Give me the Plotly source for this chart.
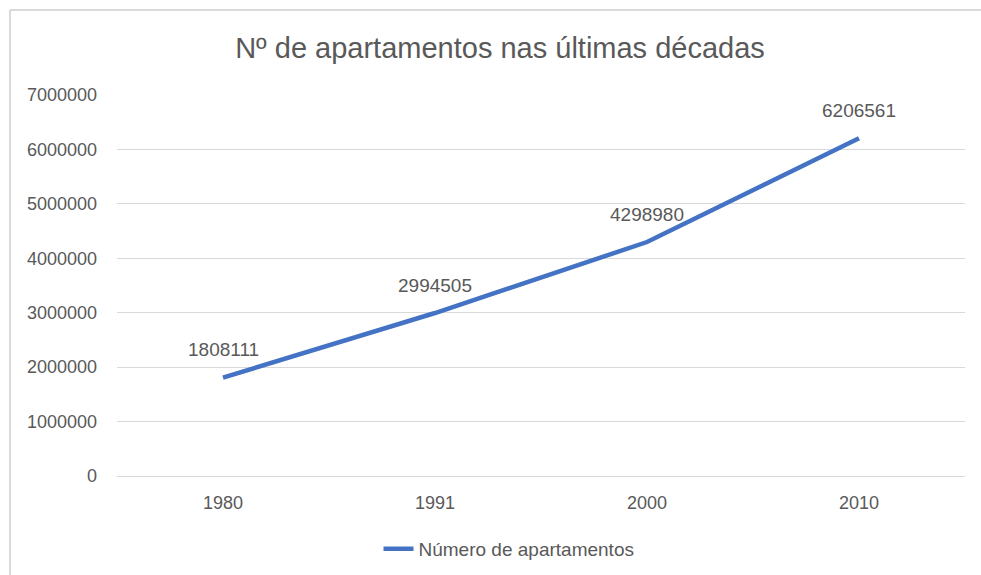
import plotly.graph_objects as go

anos = ["1980", "1991", "2000", "2010"]
apartamentos = [1808111, 2994505, 4298980, 6206561]
y_ticks = [0, 1000000, 2000000, 3000000, 4000000, 5000000, 6000000, 7000000]

cinza = "#595959"
grade = "#d9d9d9"
fonte = "Liberation Sans"

fig = go.Figure()
fig.add_trace(
    go.Scatter(
        x=anos,
        y=apartamentos,
        mode="lines",
        name="Número de apartamentos",
        line=dict(color="#4472C4", width=4.5),
    )
)

# rótulos de dados acima dos pontos (x = índice da categoria)
for i, v in enumerate(apartamentos):
    fig.add_annotation(
        x=i, y=v, text=str(v), showarrow=False, yshift=28,
        font=dict(family=fonte, size=19, color=cinza),
    )

fig.update_layout(
    width=981,
    height=575,
    paper_bgcolor="white",
    plot_bgcolor="white",
    margin=dict(l=117, r=16, t=95, b=99),
    title=dict(
        text="Nº de apartamentos nas últimas décadas",
        xref="container", x=500 / 981, xanchor="center",
        yref="container", y=1 - 48 / 575, yanchor="middle",
        font=dict(family=fonte, size=29, color=cinza),
    ),
    showlegend=True,
    legend=dict(
        orientation="h",
        xref="container", x=509 / 981, xanchor="center",
        yref="container", y=1 - 549 / 575, yanchor="middle",
        font=dict(family=fonte, size=19, color=cinza),
    ),
    shapes=[
        dict(type="line", xref="paper", yref="paper", x0=-107 / 848, x1=1 + 16 / 848,
             y0=1 + 85 / 381, y1=1 + 85 / 381, line=dict(color=grade, width=2)),
        dict(type="line", xref="paper", yref="paper", x0=-107 / 848, x1=-107 / 848,
             y0=1 + 85 / 381, y1=-99 / 381, line=dict(color=grade, width=2)),
    ],
)

fig.update_xaxes(
    type="category",
    range=[-0.5, 3.5],
    showgrid=False,
    showline=True,
    linecolor=grade,
    linewidth=1,
    ticks="",
    ticklabelstandoff=10,
    tickfont=dict(family=fonte, size=18, color=cinza),
)
fig.update_yaxes(
    range=[0, 7000000],
    tickvals=y_ticks,
    ticktext=[str(t) for t in y_ticks],
    showgrid=True,
    gridcolor=grade,
    gridwidth=1,
    zeroline=False,
    showline=False,
    ticks="",
    ticklabelstandoff=19,
    tickfont=dict(family=fonte, size=18, color=cinza),
)

fig.write_html(
    "out.html",
    config={"displayModeBar": False},
    post_script="document.body.style.margin='0';",
)
